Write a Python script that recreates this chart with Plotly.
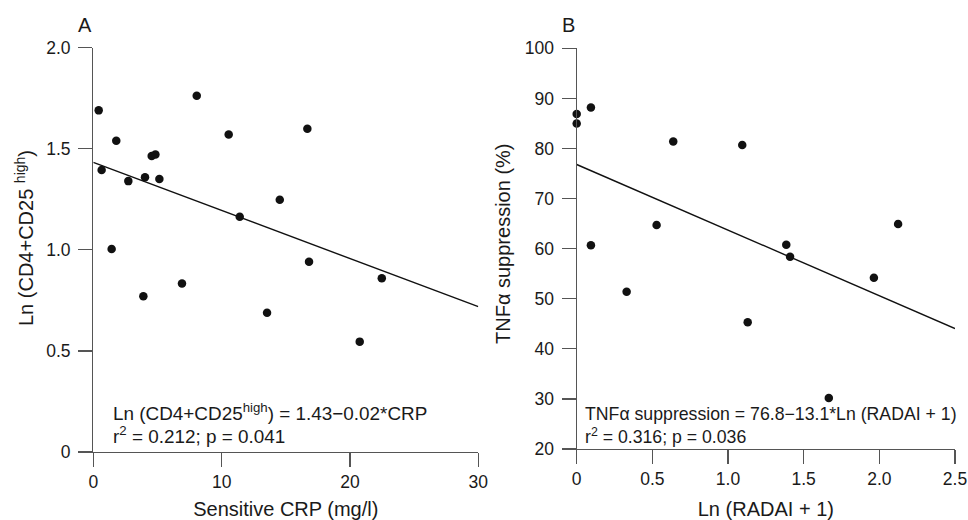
import plotly.graph_objects as go

# ---- Data ----
crp = [0.42, 0.65, 1.79, 1.43, 2.73, 4.03, 4.55, 4.84, 5.15, 8.06, 10.55, 11.41,
       14.53, 16.68, 16.81, 3.90, 6.91, 13.54, 20.76, 22.48]
ln_cd4cd25 = [1.69, 1.395, 1.54, 1.004, 1.34, 1.359, 1.464, 1.472, 1.35, 1.762, 1.571, 1.164,
              1.248, 1.599, 0.941, 0.771, 0.834, 0.689, 0.546, 0.859]
line_a_x = [0, 30]
line_a_intercept = 1.433
line_a_slope = -0.0238

ln_radai = [0.0, 0.0, 0.094, 0.094, 0.638, 0.528, 1.094, 1.385, 1.41, 2.124,
            0.33, 1.13, 1.666, 1.964]
tnf_supp = [86.9, 85.0, 88.2, 60.7, 81.4, 64.7, 80.7, 60.8, 58.4, 64.9,
            51.4, 45.3, 30.2, 54.2]
line_b_x = [0, 2.5]
line_b_intercept = 76.8
line_b_slope = -13.1

xa_ticks = [0, 10, 20, 30]
ya_ticks = [0, 0.5, 1.0, 1.5, 2.0]
ya_ticklabels = ["0", "0.5", "1.0", "1.5", "2.0"]
xb_ticks = [0, 0.5, 1.0, 1.5, 2.0, 2.5]
xb_ticklabels = ["0", "0.5", "1.0", "1.5", "2.0", "2.5"]
yb_ticks = [20, 30, 40, 50, 60, 70, 80, 90, 100]

W, H = 968, 520
FONT = "Liberation Sans, Arial, Helvetica, sans-serif"
AXC = "#555555"
TXT = "#1a1a1a"

fig = go.Figure()

fig.add_trace(go.Scatter(x=crp, y=ln_cd4cd25, mode="markers",
                         marker=dict(size=8.5, color="#111111"),
                         xaxis="x", yaxis="y", cliponaxis=False, showlegend=False))
fig.add_trace(go.Scatter(x=line_a_x, y=[line_a_intercept + line_a_slope * v for v in line_a_x],
                         mode="lines", line=dict(color="#111111", width=1.4),
                         xaxis="x", yaxis="y", cliponaxis=False, showlegend=False))
fig.add_trace(go.Scatter(x=ln_radai, y=tnf_supp, mode="markers",
                         marker=dict(size=8.5, color="#111111"),
                         xaxis="x2", yaxis="y2", cliponaxis=False, showlegend=False))
fig.add_trace(go.Scatter(x=line_b_x, y=[line_b_intercept + line_b_slope * v for v in line_b_x],
                         mode="lines", line=dict(color="#111111", width=1.4),
                         xaxis="x2", yaxis="y2", cliponaxis=False, showlegend=False))

def px_x(p):
    return p / W

def px_y(p):
    return 1 - p / H

axis_common = dict(showline=True, linecolor=AXC, linewidth=1.2, ticks="outside",
                   ticklen=14, tickwidth=1.2, tickcolor=AXC, showgrid=False, zeroline=False,
                   automargin=False,
                   tickfont=dict(family=FONT, size=17.5, color=TXT), fixedrange=True)

TITLE_FONT = dict(family=FONT, size=20, color=TXT)

fig.update_layout(
    template="none",
    width=W, height=H,
    margin=dict(l=0, r=0, t=0, b=0, pad=0),
    paper_bgcolor="white", plot_bgcolor="white",
    font=dict(family=FONT, color=TXT),
    showlegend=False,
    xaxis=dict(domain=[px_x(93.3), px_x(478.3)], range=[0, 30], anchor="y",
               tickvals=xa_ticks, ticklabelstandoff=0,
               title=dict(text="Sensitive CRP (mg/l)", font=TITLE_FONT, standoff=16),
               **axis_common),
    yaxis=dict(domain=[px_y(452), px_y(47.7)], range=[0, 2.0], anchor="x",
               tickvals=ya_ticks, ticktext=ya_ticklabels, ticklabelstandoff=4,
               **axis_common),
    xaxis2=dict(domain=[px_x(576.7), px_x(955)], range=[0, 2.5], anchor="y2",
                tickvals=xb_ticks, ticktext=xb_ticklabels, ticklabelstandoff=0,
                title=dict(text="Ln (RADAI + 1)", font=TITLE_FONT, standoff=16),
                **axis_common),
    yaxis2=dict(domain=[px_y(449), px_y(48.3)], range=[20, 100], anchor="x2",
                tickvals=yb_ticks, ticklabelstandoff=4,
                **axis_common),
)

ann_font_a = dict(family=FONT, size=18.9, color=TXT)
ann_font_b = dict(family=FONT, size=17.7, color=TXT)
annotations = [
    dict(x=px_x(85), y=px_y(25), text="A", font=TITLE_FONT),
    dict(x=px_x(568), y=px_y(25), text="B", font=TITLE_FONT),
    dict(x=px_x(25), y=px_y(238), text="Ln (CD4+CD25 <sup>high</sup>)", font=TITLE_FONT, textangle=-90),
    dict(x=px_x(503), y=px_y(243), text="TNFα suppression (%)", font=TITLE_FONT, textangle=-90),
    dict(x=px_x(111), y=px_y(412), xanchor="left",
         text="Ln (CD4+CD25<sup>high</sup>) = 1.43\u22120.02*CRP", font=ann_font_a),
    dict(x=px_x(111), y=px_y(435), xanchor="left",
         text="r<sup>2</sup> = 0.212; p = 0.041", font=ann_font_a),
    dict(x=px_x(583), y=px_y(414), xanchor="left",
         text="TNFα suppression = 76.8\u221213.1*Ln (RADAI + 1)", font=ann_font_b),
    dict(x=px_x(583), y=px_y(436), xanchor="left",
         text="r<sup>2</sup> = 0.316; p = 0.036", font=ann_font_b),
]
for a in annotations:
    a.update(xref="paper", yref="paper", showarrow=False)
    a.setdefault("xanchor", "center")
    a.setdefault("yanchor", "middle")
fig.update_layout(annotations=annotations)

# remove the default page margin so the figure fills the window exactly
fig.write_html("out.html",
               config={"displayModeBar": False, "staticPlot": True},
               post_script="document.body.style.margin='0';document.body.style.overflow='hidden';")
